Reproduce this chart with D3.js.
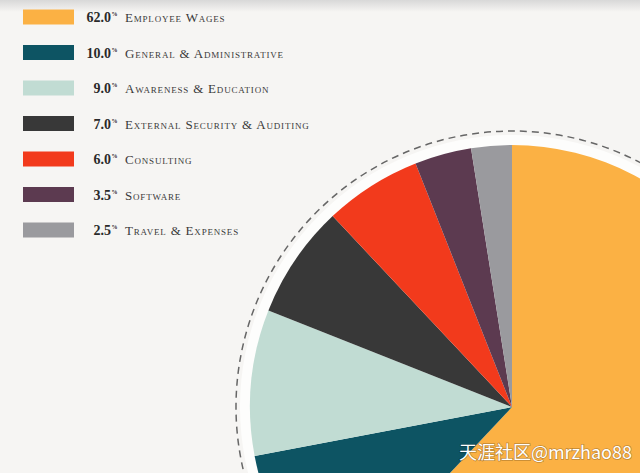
<!DOCTYPE html>
<html><head><meta charset="utf-8">
<script src="https://cdn.jsdelivr.net/npm/d3@7"></script>
<style>body{margin:0;background:#f6f5f3;overflow:hidden}</style></head>
<body><svg id="c" width="640" height="473"></svg>
<script>
const categories=["Employee Wages","General & Administrative","Awareness & Education","External Security & Auditing","Consulting","Software","Travel & Expenses"];
const values=[62.0,10.0,9.0,7.0,6.0,3.5,2.5];
const colors=["#fbb144","#0d5463","#c1dcd3","#383838","#f23a1c","#5c3a50","#9a9a9e"];
const svg=d3.select("#c");
const defs=svg.append("defs");
const g0=defs.append("linearGradient").attr("id","tg").attr("x1",0).attr("y1",0).attr("x2",0).attr("y2",1);
g0.append("stop").attr("offset",0).attr("stop-color","#d8d8d8");
g0.append("stop").attr("offset",1).attr("stop-color","#f6f5f3");
svg.append("rect").attr("width",640).attr("height",12).attr("fill","url(#tg)");
const cx=512,cy=407,r=262;
const pg=svg.append("g").attr("transform",`translate(${cx},${cy})`);
pg.append("circle").attr("r",276).attr("fill","none").attr("stroke","#666").attr("stroke-width",1.5).attr("stroke-dasharray","7,5");
pg.append("circle").attr("r",272).attr("fill","#fdfdfc");
const pie=d3.pie().sort(null).value(d=>d)(values);
const arc=d3.arc().innerRadius(0).outerRadius(r);
pg.selectAll("path").data(pie).join("path").attr("d",arc).attr("fill",(d,i)=>colors[i]);
const y=d3.scalePoint().domain(categories).range([17,230]);
const lg=svg.append("g");
categories.forEach((c,i)=>{
  const yy=y(c);
  lg.append("rect").attr("x",23).attr("y",yy-7.5).attr("width",51).attr("height",15).attr("fill",colors[i]);
  const t=lg.append("text").attr("x",111).attr("y",yy+5).attr("text-anchor","end").attr("font-family","Liberation Serif").attr("font-weight","bold").attr("font-size",14).attr("fill","#2a2a2a");
  t.append("tspan").text(values[i].toFixed(1));
  lg.append("text").attr("x",111.5).attr("y",yy-1).attr("font-family","Liberation Serif").attr("font-weight","bold").attr("font-size",6).attr("fill","#2a2a2a").text("%");
  lg.append("text").attr("x",125).attr("y",yy+5).attr("font-family","Liberation Serif").attr("font-size",13).attr("letter-spacing",0.8).style("font-variant","small-caps").attr("fill","#3a3a3a").text(c);
});
svg.append("text").attr("x",632).attr("y",459).attr("text-anchor","end").attr("font-family","Noto Sans CJK SC").attr("font-size",18).attr("fill","#fff").style("paint-order","stroke").attr("stroke","rgba(0,0,0,0.25)").attr("stroke-width",1.5).text("天涯社区@mrzhao88");
</script></body></html>
